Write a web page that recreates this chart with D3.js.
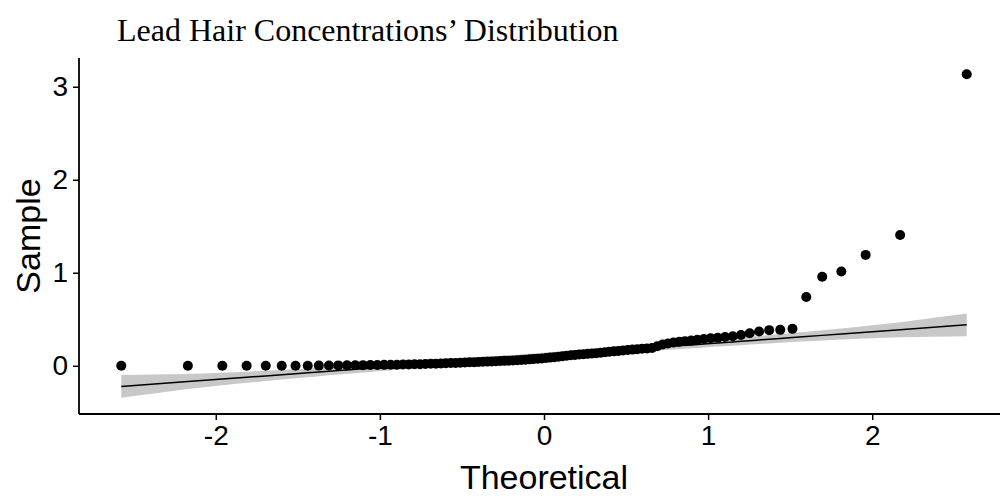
<!DOCTYPE html>
<html><head><meta charset="utf-8">
<script src="https://cdn.jsdelivr.net/npm/d3@7"></script>
<style>body{margin:0;background:#fff;} svg{display:block;}</style>
</head><body>
<script>
// ---- data ----
const chartTitle = "Lead Hair Concentrations\u2019 Distribution";
const xLabel = "Theoretical";
const yLabel = "Sample";
const xTickValues = [-2, -1, 0, 1, 2];
const yTickValues = [0, 1, 2, 3];
// sorted sample values (lead hair concentrations), n = 100
const sampleValues = [
  0, 0, 0, 0, 0, 0, 0, 0,
  0.002, 0.003, 0.004, 0.005, 0.006, 0.007, 0.008, 0.009, 0.010, 0.011, 0.012, 0.013, 0.014, 0.016, 0.017, 0.019,
  0.021, 0.023,
  0.025, 0.027, 0.029, 0.031, 0.033, 0.035, 0.037, 0.039, 0.041, 0.043, 0.045, 0.047, 0.049, 0.051, 0.053, 0.055, 0.057, 0.060, 0.063, 0.066, 0.069, 0.072, 0.075, 0.078,
  0.083, 0.088, 0.093, 0.098, 0.103, 0.108, 0.113, 0.117, 0.121, 0.125, 0.128, 0.132, 0.136, 0.140, 0.145, 0.150, 0.155, 0.160, 0.165, 0.170, 0.174, 0.178, 0.183, 0.187, 0.191,
  0.210, 0.228, 0.240, 0.250, 0.258, 0.265, 0.272, 0.280, 0.288, 0.295, 0.302, 0.310, 0.318, 0.330, 0.350, 0.368, 0.383, 0.386, 0.397,
  0.740, 0.958, 1.014, 1.192, 1.406, 3.135
];
const confLevel = 0.95;

// ---- normal distribution helpers (stat_qq) ----
function qnorm(p) {
  const a = [-3.969683028665376e+01, 2.209460984245205e+02, -2.759285104469687e+02, 1.383577518672690e+02, -3.066479806614716e+01, 2.506628277459239e+00];
  const b = [-5.447609879822406e+01, 1.615858368580409e+02, -1.556989798598866e+02, 6.680131188771972e+01, -1.328068155288572e+01];
  const c = [-7.784894002430293e-03, -3.223964580411365e-01, -2.400758277161838e+00, -2.549732539343734e+00, 4.374664141464968e+00, 2.938163982698783e+00];
  const d = [7.784695709041462e-03, 3.224671290700398e-01, 2.445134137142996e+00, 3.754408661907416e+00];
  const pl = 0.02425, ph = 1 - pl;
  let q, r;
  if (p < pl) { q = Math.sqrt(-2 * Math.log(p)); return (((((c[0]*q+c[1])*q+c[2])*q+c[3])*q+c[4])*q+c[5]) / ((((d[0]*q+d[1])*q+d[2])*q+d[3])*q+1); }
  if (p > ph) { q = Math.sqrt(-2 * Math.log(1 - p)); return -(((((c[0]*q+c[1])*q+c[2])*q+c[3])*q+c[4])*q+c[5]) / ((((d[0]*q+d[1])*q+d[2])*q+d[3])*q+1); }
  q = p - 0.5; r = q * q;
  return (((((a[0]*r+a[1])*r+a[2])*r+a[3])*r+a[4])*r+a[5])*q / (((((b[0]*r+b[1])*r+b[2])*r+b[3])*r+b[4])*r+1);
}
const dnorm = x => Math.exp(-x * x / 2) / Math.sqrt(2 * Math.PI);

const n = sampleValues.length;
const sorted = sampleValues.slice().sort(d3.ascending);
const P = d3.range(n).map(i => (i + 1 - 0.5) / n);
const points = sorted.map((v, i) => ({ z: qnorm(P[i]), y: v, p: P[i] }));

// qq line through quartiles, with confidence band
const q1 = d3.quantile(sorted, 0.25), q3 = d3.quantile(sorted, 0.75);
const zq1 = qnorm(0.25), zq3 = qnorm(0.75);
const slope = (q3 - q1) / (zq3 - zq1);
const intercept = q1 - slope * zq1;
const zz = qnorm(1 - (1 - confLevel) / 2);
const band = points.map(d => {
  const fit = intercept + slope * d.z;
  const se = (slope / dnorm(d.z)) * Math.sqrt(d.p * (1 - d.p) / n);
  return { z: d.z, fit, lo: fit - zz * se, hi: fit + zz * se };
});

// ---- layout ----
const W = 1000, H = 496;
const panel = { left: 79, right: 1009, top: 58, bottom: 414 };

const xExt = d3.extent(points, d => d.z);
const yMin = Math.min(d3.min(points, d => d.y), d3.min(band, d => d.lo));
const yMax = Math.max(d3.max(points, d => d.y), d3.max(band, d => d.hi));
const xPad = (xExt[1] - xExt[0]) * 0.05, yPad = (yMax - yMin) * 0.05;

const x = d3.scaleLinear().domain([xExt[0] - xPad, xExt[1] + xPad]).range([panel.left, panel.right]);
const y = d3.scaleLinear().domain([yMin - yPad, yMax + yPad]).range([panel.bottom, panel.top]);

const svg = d3.select("body").append("svg").attr("width", W).attr("height", H);

// band
svg.append("path").datum(band)
  .attr("fill", "#c8c8c8")
  .attr("d", d3.area().x(d => x(d.z)).y0(d => y(d.lo)).y1(d => y(d.hi)));

// line
svg.append("path").datum(band)
  .attr("fill", "none").attr("stroke", "#000").attr("stroke-width", 1.5)
  .attr("d", d3.line().x(d => x(d.z)).y(d => y(d.fit)));

// points
svg.append("g").selectAll("circle").data(points).join("circle")
  .attr("cx", d => x(d.z)).attr("cy", d => y(d.y)).attr("r", 5).attr("fill", "#000");

// axes
const fontSans = "'Liberation Sans', Arial, sans-serif";
const xAxis = svg.append("g").attr("transform", `translate(0,${panel.bottom})`)
  .call(d3.axisBottom(x).tickValues(xTickValues).tickSize(6).tickPadding(5).tickFormat(d => String(d)));
const yAxis = svg.append("g").attr("transform", `translate(${panel.left},0)`)
  .call(d3.axisLeft(y).tickValues(yTickValues).tickSize(6).tickPadding(5).tickFormat(d => String(d)));
[xAxis, yAxis].forEach(g => {
  g.select(".domain").attr("stroke", "#000").attr("stroke-width", 1.8);
  g.selectAll(".tick line").attr("stroke", "#000").attr("stroke-width", 1.5);
  g.selectAll(".tick text").attr("fill", "#000").style("font-family", fontSans).style("font-size", "28px");
});
xAxis.select(".domain").attr("d", `M${panel.left},0H${panel.right}`);
yAxis.select(".domain").attr("d", `M0,${panel.top}V${panel.bottom}`);

svg.append("text").attr("x", x(0)).attr("y", 489)
  .attr("text-anchor", "middle").style("font-family", fontSans).style("font-size", "34px")
  .text(xLabel);
svg.append("text").attr("transform", `translate(40,${(panel.top + panel.bottom) / 2}) rotate(-90)`)
  .attr("text-anchor", "middle").style("font-family", fontSans).style("font-size", "34px")
  .text(yLabel);

svg.append("text").attr("x", 117).attr("y", 41)
  .style("font-family", "'Liberation Serif', 'Times New Roman', serif").style("font-size", "32px")
  .text(chartTitle);
</script>
</body></html>
